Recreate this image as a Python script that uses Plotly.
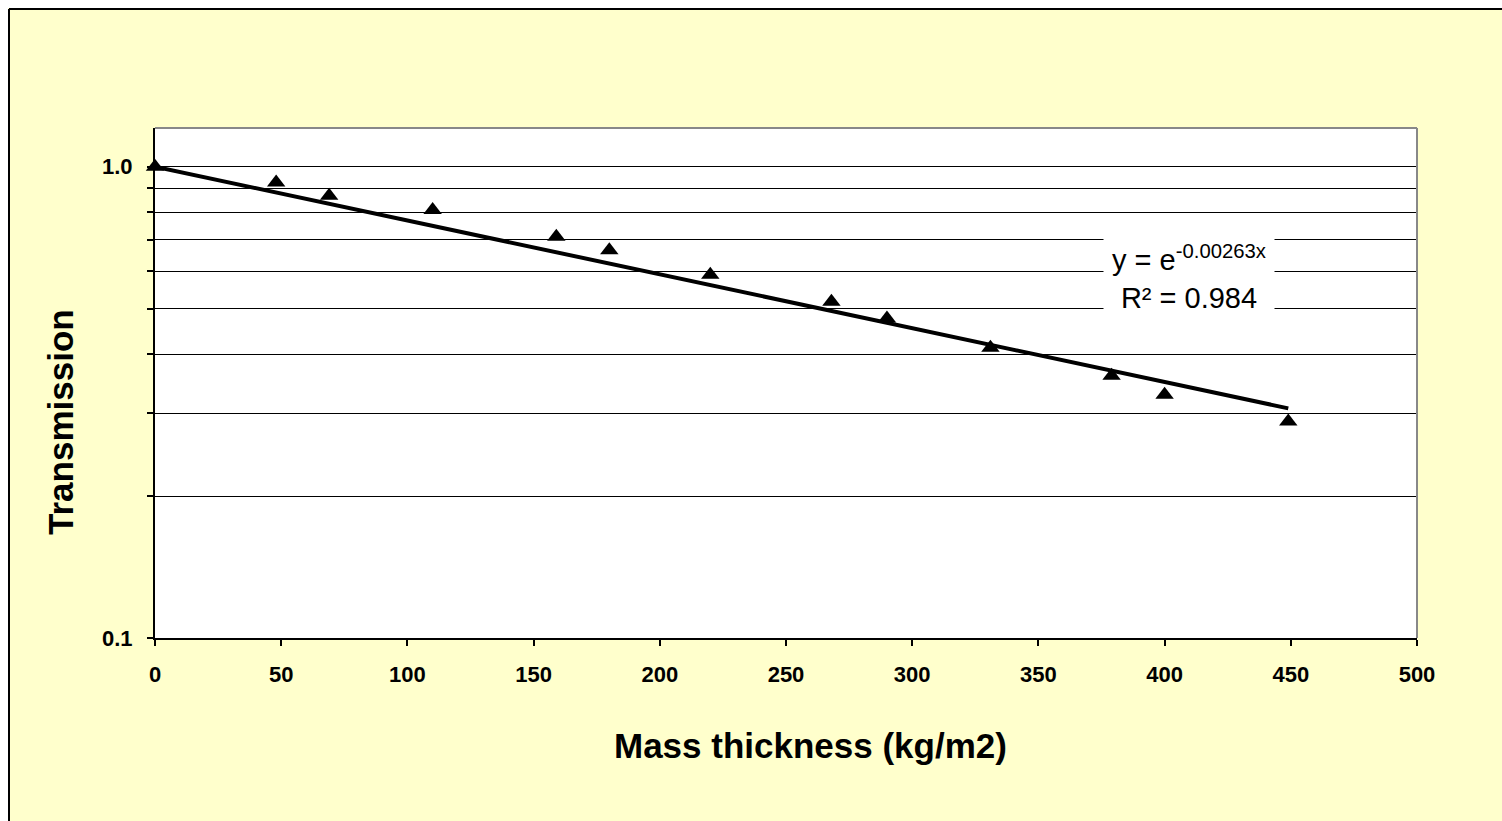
import plotly.graph_objects as go
import math

# Data
mass_thickness = [0, 48, 69, 110, 159, 180, 220, 268, 290, 331, 379, 400, 449]
transmission = [1.0, 0.925, 0.868, 0.809, 0.710, 0.665, 0.590, 0.517, 0.476, 0.413, 0.360, 0.328, 0.288]

# Trendline endpoints (exponential fit, straight on log axis)
trend_x = [0, 449]
trend_y = [1.0, 0.307]

y_tickvals = [0.1, 0.2, 0.3, 0.4, 0.5, 0.6, 0.7, 0.8, 0.9, 1.0]
y_ticktext = ["0.1", "", "", "", "", "", "", "", "", "1.0"]
x_tickvals = [0, 50, 100, 150, 200, 250, 300, 350, 400, 450, 500]

equation_text = "y = e<sup>-0.00263x</sup><br>R² = 0.984"

OFF = 8  # page body margin (left/top)
L, R, T, B = 147, 85, 120, 183
W, H = 1494, 813
pw, ph = W - L - R, H - T - B


def px_x(sx):
    return (sx - OFF - L) / pw


def px_y(sy):
    return (H - B - (sy - OFF)) / ph


fig = go.Figure()
fig.add_trace(go.Scatter(
    x=trend_x, y=trend_y, mode="lines",
    line=dict(color="black", width=4), hoverinfo="skip", showlegend=False))
fig.add_trace(go.Scatter(
    x=mass_thickness, y=transmission, mode="markers",
    marker=dict(symbol="triangle-up", size=16, color="black"),
    showlegend=False, cliponaxis=False))

font_family = "Liberation Sans, Arial, sans-serif"

fig.update_layout(
    width=W, height=H,
    margin=dict(l=L, r=R, t=T, b=B),
    paper_bgcolor="#FFFFCC",
    plot_bgcolor="white",
    font=dict(family=font_family, color="black"),
    xaxis=dict(
        range=[0, 500], tickvals=x_tickvals,
        ticks="outside", ticklen=6, tickcolor="black", tickwidth=1.5,
        showline=True, linecolor="black", linewidth=2,
        showgrid=False, zeroline=False,
        tickfont=dict(size=22, family=font_family, color="black", weight="bold"),
        ticklabelstandoff=10,
        mirror=False,
    ),
    yaxis=dict(
        type="log", range=[-1, 0.082],
        tickvals=y_tickvals, ticktext=y_ticktext,
        ticks="outside", ticklen=6, tickcolor="black", tickwidth=1.5,
        showline=True, linecolor="black", linewidth=2,
        showgrid=True, gridcolor="black", gridwidth=1.3,
        zeroline=False,
        tickfont=dict(size=22, family=font_family, color="black", weight="bold"),
        ticklabelstandoff=10,
    ),
    shapes=[
        # gray border at top and right of plot area
        dict(type="line", xref="paper", yref="paper", x0=0, x1=1, y0=1, y1=1,
             line=dict(color="#888888", width=2)),
        dict(type="line", xref="paper", yref="paper", x0=1, x1=1, y0=0, y1=1,
             line=dict(color="#888888", width=2)),
        # outer chart border (left and top visible)
        dict(type="line", xref="paper", yref="paper",
             x0=px_x(9), x1=px_x(9), y0=px_y(9), y1=-1,
             line=dict(color="black", width=2)),
        dict(type="line", xref="paper", yref="paper",
             x0=px_x(9), x1=1.2, y0=px_y(9), y1=px_y(9),
             line=dict(color="black", width=2)),
    ],
    annotations=[
        dict(x=409.7, y=math.log10(0.584), xref="x", yref="y",
             text=equation_text, showarrow=False, align="center",
             xanchor="center", yanchor="middle",
             font=dict(size=29, family=font_family, color="black"),
             bgcolor="white", width=168, height=80),
        dict(x=px_x(810), y=px_y(745), xanchor="center", yanchor="middle",
             xref="paper", yref="paper", text="<b>Mass thickness (kg/m2)</b>",
             showarrow=False, font=dict(size=35, family=font_family, color="black")),
        dict(x=px_x(60), y=px_y(422), xanchor="center", yanchor="middle",
             xref="paper", yref="paper", text="<b>Transmission</b>", textangle=-90,
             showarrow=False, font=dict(size=35, family=font_family, color="black")),
    ],
)

fig.write_html(
    "out.html",
    post_script="document.body.style.margin='8px 0 0 8px';"
                "document.body.style.overflow='hidden';"
                "document.documentElement.style.overflow='hidden';",
)
